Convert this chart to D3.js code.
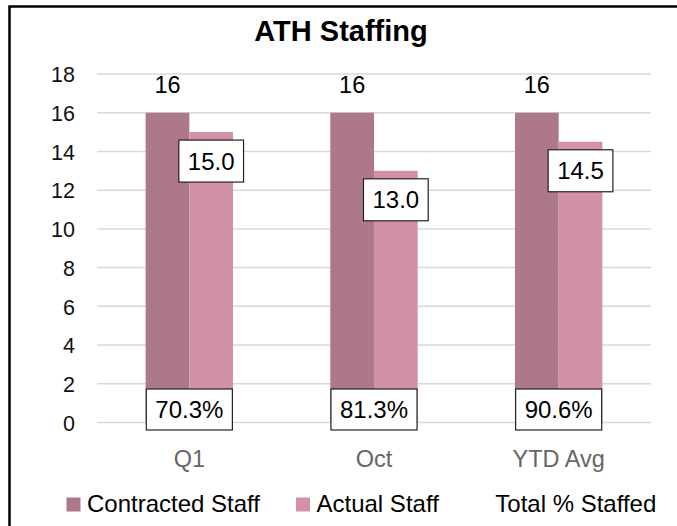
<!DOCTYPE html>
<html>
<head>
<meta charset="utf-8">
<script src="https://cdn.jsdelivr.net/npm/d3@7"></script>
<style>
  html, body { margin: 0; padding: 0; background: #fff; }
  svg { display: block; font-family: "Liberation Sans", Arial, sans-serif; }
</style>
</head>
<body>
<svg id="chart" width="677" height="526"></svg>
<script>
// Chart data
var categories = ['Q1', 'Oct', 'YTD Avg'];
var contracted = [16, 16, 16];
var actual = [15, 13, 14.5];
var pctStaffed = [70.3, 81.3, 90.6];
var yTicks = [0, 2, 4, 6, 8, 10, 12, 14, 16, 18];
var seriesNames = ['Contracted Staff', 'Actual Staff', 'Total % Staffed'];

var colContracted = '#ad7889';
var colActual = '#d291a6';

var svg = d3.select('#chart');

// chart frame (only top/left visible in the crop)
svg.append('rect')
    .attr('x', 9.5).attr('y', 6.5)
    .attr('width', 700).attr('height', 560)
    .attr('fill', 'none')
    .attr('stroke', '#000')
    .attr('stroke-width', 2.5);

var plot = { left: 97, right: 651, top: 74, bottom: 422.5 };

var x = d3.scaleBand()
    .domain(categories)
    .range([plot.left, plot.right]);

var barW = 43.7;
var xs = d3.scaleBand()
    .domain(['contracted', 'actual'])
    .range([x.bandwidth() / 2 - barW, x.bandwidth() / 2 + barW]);

var y = d3.scaleLinear()
    .domain([0, 18])
    .range([plot.bottom, plot.top]);

// title
svg.append('text')
    .attr('x', 341).attr('y', 41)
    .attr('text-anchor', 'middle')
    .style('font-size', '29px')
    .style('font-weight', 'bold')
    .style('fill', '#000')
    .text('ATH Staffing');

// gridlines
svg.append('g').selectAll('line')
    .data(yTicks)
    .join('line')
    .attr('x1', plot.left).attr('x2', plot.right)
    .attr('y1', function(d) { return y(d); })
    .attr('y2', function(d) { return y(d); })
    .attr('stroke', '#d9d9d9')
    .attr('stroke-width', 1.5);

// y axis labels
var yAxis = d3.axisLeft(y).tickValues(yTicks).tickSize(0).tickPadding(0);
svg.append('g')
    .attr('transform', 'translate(75,0)')
    .call(yAxis)
    .call(function(g) {
        g.select('.domain').remove();
        g.selectAll('text')
            .attr('dy', '0.36em')
            .style('font-size', '21.5px')
            .style('font-family', '"Liberation Sans", Arial, sans-serif')
            .style('fill', '#111');
    });

// bars
var groups = svg.append('g').selectAll('g.cat')
    .data(categories)
    .join('g')
    .attr('class', 'cat')
    .attr('transform', function(d) { return 'translate(' + x(d) + ',0)'; });

groups.append('rect')
    .attr('x', xs('contracted'))
    .attr('width', xs.bandwidth())
    .attr('y', function(d, i) { return y(contracted[i]); })
    .attr('height', function(d, i) { return y(0) - y(contracted[i]); })
    .attr('fill', colContracted);

groups.append('rect')
    .attr('x', xs('actual'))
    .attr('width', xs.bandwidth())
    .attr('y', function(d, i) { return y(actual[i]); })
    .attr('height', function(d, i) { return y(0) - y(actual[i]); })
    .attr('fill', colActual);

// contracted labels, outside end
groups.append('text')
    .attr('x', xs('contracted') + xs.bandwidth() / 2)
    .attr('y', function(d, i) { return y(contracted[i]) - 19.4; })
    .attr('text-anchor', 'middle')
    .style('font-size', '23.5px')
    .style('fill', '#000')
    .text(function(d, i) { return contracted[i]; });

// boxed label helper
function boxLabel(g, cx, top, txt, h) {
    var t = g.append('text')
        .attr('x', cx)
        .attr('text-anchor', 'middle')
        .style('font-size', '24px')
        .style('fill', '#000')
        .text(txt);
    var w = t.node().getComputedTextLength() + 18;
    g.insert('rect', 'text')
        .attr('x', cx - w / 2)
        .attr('y', top)
        .attr('width', w)
        .attr('height', h)
        .attr('fill', '#fff')
        .attr('stroke', '#222')
        .attr('stroke-width', 1.2);
    t.attr('y', top + h / 2).attr('dy', '0.36em');
}

// actual labels, inside end with box
groups.each(function(d, i) {
    var g = d3.select(this).append('g');
    boxLabel(g, xs('actual') + xs.bandwidth() / 2, y(actual[i]) + 8,
        actual[i].toFixed(1), 42);
});

// total % staffed labels at base
groups.each(function(d, i) {
    var g = d3.select(this).append('g');
    boxLabel(g, x.bandwidth() / 2, y(0) - 33.5, pctStaffed[i].toFixed(1) + '%', 41);
});

// category axis
var xAxis = d3.axisBottom(x).tickSize(0).tickPadding(0);
svg.append('g')
    .attr('transform', 'translate(0,467)')
    .call(xAxis)
    .call(function(g) {
        g.select('.domain').remove();
        g.selectAll('text')
            .attr('dy', 0)
            .style('font-size', '23.5px')
            .style('font-family', '"Liberation Sans", Arial, sans-serif')
            .style('fill', '#666');
    });

// legend
var legendColors = [colContracted, colActual, 'none'];
var legend = svg.append('g');
var lx = 66.5;
seriesNames.forEach(function(name, i) {
    legend.append('rect')
        .attr('x', lx).attr('y', 497.5)
        .attr('width', 14).attr('height', 14)
        .attr('fill', legendColors[i]);
    var t = legend.append('text')
        .attr('x', lx + 20.5).attr('y', 511.5)
        .style('font-size', '24px')
        .style('fill', '#000')
        .text(name);
    lx += 20.5 + t.node().getComputedTextLength() + 36;
});
</script>
</body>
</html>
